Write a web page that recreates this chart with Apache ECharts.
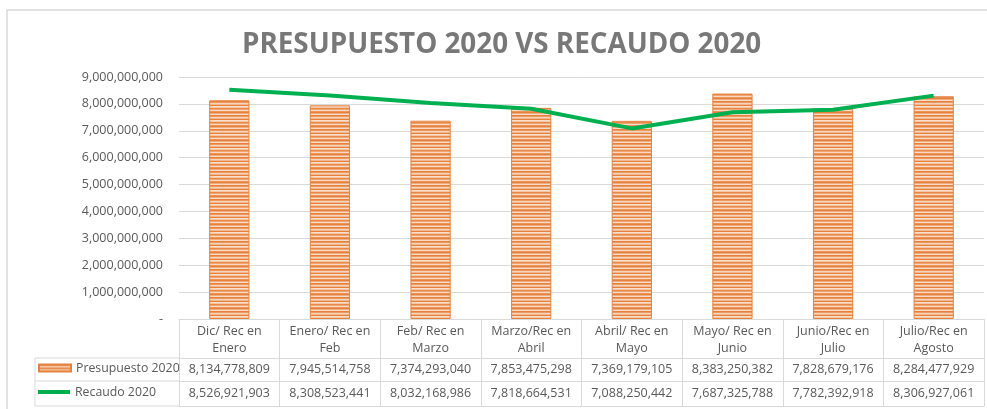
<!DOCTYPE html>
<html>
<head>
<meta charset="utf-8">
<script src="https://cdn.jsdelivr.net/npm/echarts@6/dist/echarts.min.js"></script>
<style>html,body{margin:0;padding:0;background:#fff;}#c{width:987px;height:409px;}</style>
</head>
<body>
<div id="c"></div>
<script>
var categories = ['Dic/ Rec en\nEnero','Enero/ Rec en\nFeb','Feb/ Rec en\nMarzo','Marzo/Rec en\nAbril','Abril/ Rec en\nMayo','Mayo/ Rec en\nJunio','Junio/Rec en\nJulio','Julio/Rec en\nAgosto'];
var presupuesto = [8134778809, 7945514758, 7374293040, 7853475298, 7369179105, 8383250382, 7828679176, 8284477929];
var recaudo = [8526921903, 8308523441, 8032168986, 7818664531, 7088250442, 7687325788, 7782392918, 8306927061];
var seriesNames = ['Presupuesto 2020', 'Recaudo 2020'];
var titleText = 'PRESUPUESTO 2020 VS RECAUDO 2020';

function fmt(v){ return v === 0 ? '-' : Number(v).toLocaleString('en-US'); }

// striped orange pattern like Excel's horizontal-line fill
var pc = document.createElement('canvas');
pc.width = 4; pc.height = 14;
var pctx = pc.getContext('2d');
var rows = ['#E4813E','#F0AD80','#F9DCC6','#E4813E','#EC9A63','#F8D4B8','#F2B78E','#E4813E','#F9DEC9','#F5C6A3','#E68846','#EFA674','#F9DAC3','#EA935A'];
rows.forEach(function(c,i){ pctx.fillStyle = c; pctx.fillRect(0,i,4,1); });

var FONT = 'Open Sans';
var TXT = '#595959';
var LINE = '#D9D9D9';

var chart = echarts.init(document.getElementById('c'));
var gridLeft = 179, gridRight = 3, gridTop = 77, gridBottom = 90;

chart.setOption({
  animation: false,
  backgroundColor: '#fff',
  title: {
    text: titleText, left: 237, top: 26,
    textStyle: { fontFamily: FONT, fontWeight: 'bold', fontSize: 27.8, color: '#787878' }
  },
  legend: [{
    data: [{ name: seriesNames[0], icon: 'rect' }], left: 38, top: 362, orient: 'vertical', padding: 0,
    itemWidth: 32, itemHeight: 7, selectedMode: false,
    textStyle: { fontFamily: FONT, fontSize: 12.3, color: TXT }
  },{
    data: [{ name: seriesNames[1], icon: 'rect' }], left: 38, top: 386, orient: 'vertical', padding: 0,
    itemWidth: 32, itemHeight: 4, selectedMode: false,
    textStyle: { fontFamily: FONT, fontSize: 12.3, color: TXT }
  }],
  grid: { left: gridLeft, right: gridRight, top: gridTop, bottom: gridBottom, containLabel: false },
  xAxis: [{
    type: 'category', data: categories, position: 'bottom',
    axisLine: { show: true, lineStyle: { color: LINE, width: 1 } },
    axisTick: { show: true, interval: 0, length: 87, lineStyle: { color: LINE } },
    axisLabel: { interval: 0, margin: 4, fontFamily: FONT, fontSize: 12.5, color: TXT, lineHeight: 17 }
  },{
    type: 'category', data: categories, position: 'bottom', offset: 39,
    axisLine: { show: true, lineStyle: { color: LINE, width: 1 } },
    axisTick: { show: false },
    axisLabel: { interval: 0, margin: 0, fontFamily: FONT, fontSize: 12.5, color: TXT, lineHeight: 23,
      formatter: function(v, i){ return fmt(presupuesto[i]); } }
  },{
    type: 'category', data: categories, position: 'bottom', offset: 62,
    axisLine: { show: true, lineStyle: { color: LINE, width: 1 } },
    axisTick: { show: false },
    axisLabel: { interval: 0, margin: 0, fontFamily: FONT, fontSize: 12.5, color: TXT, lineHeight: 25,
      formatter: function(v, i){ return fmt(recaudo[i]); } }
  },{
    type: 'category', data: categories, position: 'bottom', offset: 87,
    axisLine: { show: true, lineStyle: { color: LINE, width: 1 } },
    axisTick: { show: false }, axisLabel: { show: false }
  }],
  yAxis: {
    type: 'value', min: 0, max: 9000000000, interval: 1000000000,
    axisLine: { show: false }, axisTick: { show: false },
    splitLine: { lineStyle: { color: LINE, width: 1 } },
    axisLabel: { margin: 16, fontFamily: FONT, fontSize: 12.5, color: TXT, formatter: fmt }
  },
  graphic: [
    { type: 'rect', shape: { x: 7, y: 10, width: 1000, height: 420 }, style: { fill: 'none', stroke: LINE, lineWidth: 1.5 }, silent: true, z: -1 },
    { type: 'line', shape: { x1: 35, y1: 358, x2: 179, y2: 358 }, style: { stroke: LINE, lineWidth: 1 } },
    { type: 'line', shape: { x1: 35, y1: 381, x2: 179, y2: 381 }, style: { stroke: LINE, lineWidth: 1 } },
    { type: 'line', shape: { x1: 35, y1: 406, x2: 179, y2: 406 }, style: { stroke: LINE, lineWidth: 1 } },
    { type: 'line', shape: { x1: 35, y1: 358, x2: 35, y2: 406 }, style: { stroke: LINE, lineWidth: 1 } }
  ],
  series: [{
    name: seriesNames[0], type: 'bar', data: presupuesto, barWidth: '40%',
    itemStyle: { color: { image: pc, repeat: 'repeat' }, borderColor: '#E4823F', borderWidth: 1 }
  },{
    name: seriesNames[1], type: 'line', data: recaudo, symbol: 'none', smooth: false,
    lineStyle: { color: '#00B050', width: 4 }, itemStyle: { color: '#00B050' }, z: 5
  }]
});
</script>
</body>
</html>
